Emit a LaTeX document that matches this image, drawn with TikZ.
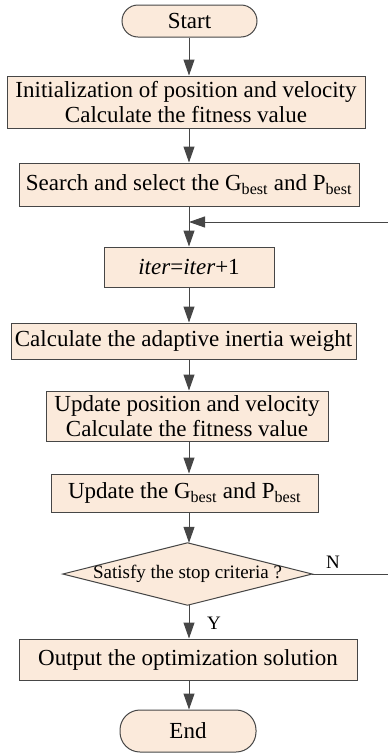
\documentclass[tikz,border=0pt]{standalone}
\usepackage{fontspec}
\setmainfont{Liberation Serif}
\usetikzlibrary{arrows.meta,backgrounds}
\definecolor{boxfill}{RGB}{251,234,219}
\definecolor{edge}{RGB}{70,70,70}
\tikzset{
  procbox/.style={draw=edge, line width=1pt, fill=boxfill, inner sep=0pt, align=center,
    font=\fontsize{23}{25}\selectfont},
  termbox/.style={procbox, rounded corners=16pt},
  arr/.style={draw=edge, line width=1pt, -{Triangle[length=16pt,width=11pt]}},
  plainline/.style={draw=edge, line width=1pt},
  lbl/.style={inner sep=0pt, font=\fontsize{19}{21}\selectfont}
}
\begin{document}
\begin{tikzpicture}[x=1pt,y=-1pt]
\useasboundingbox (0,0) rectangle (388,753);
\node[termbox, minimum width=135pt, minimum height=32pt] (start) at (189.5,21) {Start};
\node[procbox, minimum width=358pt, minimum height=52pt] (init) at (186,102)
  {Initialization of position and velocity\\Calculate the fitness value};
\node[procbox, minimum width=340pt, minimum height=43pt] (search) at (189,184.5)
  {Search and select the G\textsubscript{best} and P\textsubscript{best}};
\node[procbox, minimum width=170pt, minimum height=40pt] (iter) at (189,267)
  {\textit{iter}=\textit{iter}+1};
\node[procbox, minimum width=345pt, minimum height=36pt] (calc) at (183.5,341)
  {Calculate the adaptive inertia weight};
\node[procbox, minimum width=282pt, minimum height=50pt] (update) at (187,416)
  {Update position and velocity\\Calculate the fitness value};
\node[procbox, minimum width=267pt, minimum height=38pt] (gbest) at (184.5,493)
  {Update the G\textsubscript{best} and P\textsubscript{best}};
\node[inner sep=0pt, minimum width=249pt, minimum height=62pt,
  font=\fontsize{19}{21}\selectfont] (dec) at (187.5,574) {Satisfy the stop criteria ?};
\begin{scope}[on background layer]
  \draw[draw=edge, line width=1pt, fill=boxfill] (dec.north) -- (dec.east) -- (dec.south) -- (dec.west) -- cycle;
\end{scope}
\node[procbox, minimum width=338pt, minimum height=41pt] (output) at (188,659.5)
  {Output the optimization solution};
\node[termbox, minimum width=136pt, minimum height=42pt, rounded corners=20pt] (end) at (188,731) {End};

\coordinate (spine) at (189,0);
\coordinate (join) at (189,222);
\coordinate (rtop) at (388,222);
\coordinate (rbot) at (388,574);

\draw[arr] (start.south -| spine) -- (init.north -| spine);
\draw[arr] (init.south -| spine) -- (search.north -| spine);
\draw[arr] (search.south -| spine) -- (iter.north -| spine);
\draw[arr] (rtop) -- (join);
\draw[arr] (iter.south -| spine) -- (calc.north -| spine);
\draw[arr] (calc.south -| spine) -- (update.north -| spine);
\draw[arr] (update.south -| spine) -- (gbest.north -| spine);
\draw[arr] (gbest.south -| spine) -- (dec.north -| spine);
\draw[plainline] (dec.east) -- (rbot);
\draw[arr] (dec.south -| spine) -- (output.north -| spine);
\draw[arr] (output.south -| spine) -- (end.north -| spine);

\node[lbl] (nlab) at (333,562) {N};
\node[lbl] (ylab) at (214,623) {Y};
\end{tikzpicture}
\end{document}
